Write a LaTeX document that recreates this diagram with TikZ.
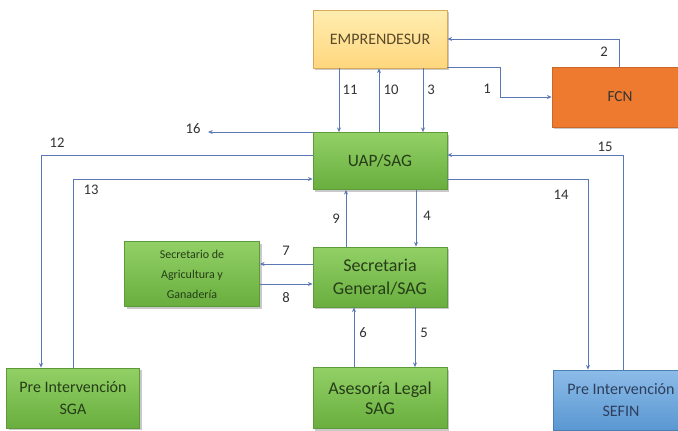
\documentclass[tikz,border=0pt]{standalone}
\usepackage{fontspec}
\setmainfont{Carlito}
\usetikzlibrary{shadows,arrows.meta}
\definecolor{lnc}{HTML}{5A78B5}
\definecolor{grtop}{HTML}{92D066}
\definecolor{grbot}{HTML}{69AE3E}
\definecolor{grbd}{HTML}{5E9A3A}
\definecolor{grtx}{HTML}{263D18}
\definecolor{yltop}{HTML}{FFEDB0}
\definecolor{ylbot}{HTML}{FFD77E}
\definecolor{ylbd}{HTML}{D9AA55}
\definecolor{yltx}{HTML}{5A4A2A}
\definecolor{orfill}{HTML}{EE7A30}
\definecolor{bltop}{HTML}{8CBCE8}
\definecolor{blbot}{HTML}{5A97D2}
\definecolor{bltx}{HTML}{2E3E5C}
\begin{document}
\begin{tikzpicture}[x=0.75pt,y=-0.75pt,
  bx/.style={rectangle, align=center, inner sep=1pt,
     drop shadow={shadow xshift=1.8pt, shadow yshift=-1.8pt, opacity=0.35, fill=black!60}},
  grn/.style={bx, draw=grbd, line width=0.6pt, top color=grtop, bottom color=grbot, text=grtx},
  arr/.style={draw=lnc, line width=0.6pt, -{Stealth[length=3.5pt,width=3pt]}},
  lbl/.style={font=\fontsize{11}{12}\selectfont, text=black!80, inner sep=0pt}
]
\useasboundingbox (0,0) rectangle (678,430);
\clip (0,0) rectangle (678,430);
\fill[white] (0,0) rectangle (678,430);

% nodes
\node[bx, draw=ylbd, line width=0.6pt, top color=yltop, bottom color=ylbot,
      minimum width=134*0.75pt, minimum height=58*0.75pt,
      font=\fontsize{12}{14}\selectfont, text=yltx] (emp) at (380,39) {EMPRENDESUR};
\node[bx, draw=orfill!85!black, line width=0.6pt, fill=orfill, text=black!80,
      minimum width=136*0.75pt, minimum height=60*0.75pt,
      font=\fontsize{11.5}{13}\selectfont] (fcn) at (620,97) {FCN};
\node[grn, minimum width=134*0.75pt, minimum height=57*0.75pt,
      font=\fontsize{13}{15}\selectfont] (uap) at (380,161) {UAP/SAG};
\node[grn, minimum width=134*0.75pt, minimum height=60*0.75pt,
      font=\fontsize{13.5}{17}\selectfont] (sg) at (380,277) {Secretaria\\General/SAG};
\node[grn, minimum width=135*0.75pt, minimum height=65*0.75pt,
      font=\fontsize{9}{15}\selectfont] (sec) at (192,274) {Secretario de\\Agricultura y\\Ganadería};
\node[grn, minimum width=133*0.75pt, minimum height=60*0.75pt,
      font=\fontsize{12}{17}\selectfont] (sga) at (73,398) {Pre Intervención\\SGA};
\node[grn, minimum width=134*0.75pt, minimum height=61*0.75pt,
      font=\fontsize{13.5}{15}\selectfont] (al) at (380,398) {Asesoría Legal\\SAG};
\node[bx, draw=blbot!85!black, line width=0.6pt, top color=bltop, bottom color=blbot,
      minimum width=136*0.75pt, minimum height=60*0.75pt,
      font=\fontsize{12}{16.5}\selectfont, text=bltx] (sefin) at (621,400) {Pre Intervención\\SEFIN};

% x / y guide coordinates
\coordinate (x11) at (339,0);
\coordinate (x10) at (379,0);
\coordinate (x3) at (423,0);
\coordinate (x9) at (346,0);
\coordinate (x4) at (416,0);
\coordinate (x6) at (354,0);
\coordinate (x5) at (415,0);
\coordinate (x12) at (41,0);
\coordinate (x13) at (73,0);
\coordinate (x14) at (588,0);
\coordinate (x15) at (623,0);
\coordinate (x2) at (619,0);
\coordinate (x1) at (500,0);
\coordinate (y1a) at (0,67);
\coordinate (y2) at (0,39);
\coordinate (y16) at (0,132);
\coordinate (y12) at (0,155);
\coordinate (y13) at (0,179);
\coordinate (y7) at (0,264);
\coordinate (y8) at (0,284);
\coordinate (e16) at (208,132);

% connectors
\draw[arr] (emp.south -| x11) -- (uap.north -| x11);
\draw[arr] (uap.north -| x10) -- (emp.south -| x10);
\draw[arr] (emp.south -| x3) -- (uap.north -| x3);
\draw[arr] (emp.east |- y1a) -| (x1 |- fcn.west) -- (fcn.west);
\draw[arr] (fcn.north -| x2) |- (emp.east |- y2);
\draw[arr] (uap.west |- y16) -- (e16);
\draw[arr] (uap.west |- y12) -| (sga.north -| x12);
\draw[arr] (sga.north -| x13) |- (uap.west |- y13);
\draw[arr] (sefin.north -| x15) |- (uap.east |- y12);
\draw[arr] (uap.east |- y13) -| (sefin.north -| x14);
\draw[arr] (sg.north -| x9) -- (uap.south -| x9);
\draw[arr] (uap.south -| x4) -- (sg.north -| x4);
\draw[arr] (sg.west |- y7) -- (sec.east |- y7);
\draw[arr] (sec.east |- y8) -- (sg.west |- y8);
\draw[arr] (al.north -| x6) -- (sg.south -| x6);
\draw[arr] (sg.south -| x5) -- (al.north -| x5);

% labels
\node[lbl] (l11) at (350,90) {11};
\node[lbl] (l10) at (391,90) {10};
\node[lbl] (l3) at (431,90) {3};
\node[lbl] (l1) at (487,89) {1};
\node[lbl] (l2) at (604,52) {2};
\node[lbl] (l16) at (193,129) {16};
\node[lbl] (l12) at (57,143) {12};
\node[lbl] (l13) at (91,190) {13};
\node[lbl] (l15) at (605,147) {15};
\node[lbl] (l14) at (561,195) {14};
\node[lbl] (l9) at (336,219) {9};
\node[lbl] (l4) at (427,216) {4};
\node[lbl] (l7) at (286,251) {7};
\node[lbl] (l8) at (286,298) {8};
\node[lbl] (l6) at (363,333) {6};
\node[lbl] (l5) at (424,333) {5};
\end{tikzpicture}
\end{document}
